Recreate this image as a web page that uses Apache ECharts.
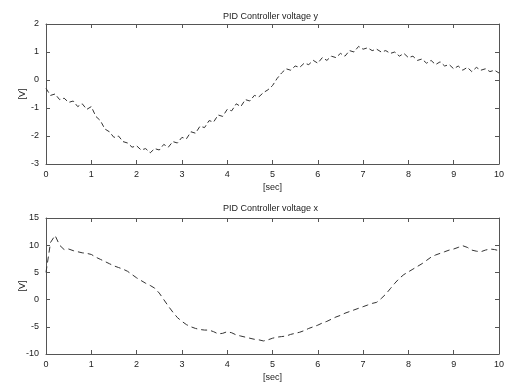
<!DOCTYPE html>
<html><head><meta charset="utf-8">
<script src="https://cdn.jsdelivr.net/npm/echarts@6/dist/echarts.min.js"></script>
<style>html,body{margin:0;padding:0;background:#fff}#c{width:511px;height:383px}</style>
</head><body><div id="c"></div>
<script>
const timeStep = 0.1;
const xTicks = [0,1,2,3,4,5,6,7,8,9,10];
const yTicksTop = [2,1,0,-1,-2,-3];
const yTicksBottom = [15,10,5,0,-5,-10];
const titleTop = 'PID Controller voltage y';
const titleBottom = 'PID Controller voltage x';
const voltageY = [
 -0.30,-0.55,-0.50,-0.70,-0.65,-0.80,-0.75,-0.95,-0.85,-1.05,
 -0.95,-1.30,-1.45,-1.75,-1.85,-2.05,-2.00,-2.20,-2.25,-2.40,
 -2.35,-2.50,-2.45,-2.60,-2.45,-2.50,-2.30,-2.40,-2.20,-2.25,
 -2.05,-2.10,-1.85,-1.90,-1.65,-1.70,-1.45,-1.50,-1.25,-1.30,
 -1.05,-1.10,-0.85,-0.95,-0.70,-0.75,-0.55,-0.60,-0.45,-0.35,
 -0.20,0.05,0.25,0.40,0.35,0.50,0.45,0.60,0.55,0.70,
 0.60,0.80,0.70,0.85,0.80,0.95,0.85,1.05,1.00,1.20,
 1.10,1.15,1.05,1.10,1.00,1.05,0.95,1.00,0.85,0.95,
 0.80,0.85,0.70,0.75,0.60,0.70,0.55,0.65,0.50,0.55,
 0.40,0.50,0.35,0.45,0.30,0.45,0.35,0.40,0.30,0.35,
 0.25
];
const voltageX = [
 5.0,10.5,11.8,10.0,9.2,9.3,9.0,8.8,8.6,8.5,
 8.3,7.8,7.4,7.0,6.6,6.2,5.9,5.6,5.2,4.6,
 4.0,3.5,3.0,2.6,2.1,1.2,0.0,-1.2,-2.3,-3.3,
 -4.0,-4.6,-5.0,-5.3,-5.5,-5.6,-5.6,-5.9,-6.3,-6.2,
 -5.9,-6.1,-6.5,-6.7,-6.9,-7.1,-7.3,-7.4,-7.6,-7.4,
 -7.1,-6.9,-6.8,-6.7,-6.4,-6.2,-6.0,-5.7,-5.3,-5.0,
 -4.7,-4.3,-4.0,-3.6,-3.2,-2.9,-2.5,-2.2,-1.9,-1.6,
 -1.3,-1.0,-0.7,-0.5,0.2,1.0,2.0,3.0,3.9,4.6,
 5.1,5.6,6.1,6.6,7.2,7.8,8.2,8.5,8.8,9.1,
 9.3,9.6,9.9,9.6,9.1,8.9,8.8,9.1,9.3,9.2,
 9.0
];
const pairs = arr => arr.map((v,i)=>[+(i*timeStep).toFixed(2), v]);
const font = 'Liberation Sans, Arial, sans-serif';
const axisCol = '#555';
function xAx(gi, showLabel, pos){
  return {type:'value', gridIndex:gi, min:0, max:10, interval:1, position:pos,
    name: showLabel ? '[sec]' : '', nameLocation:'middle', nameGap:19, nameMoveOverlap:false,
    nameTextStyle:{fontFamily:font,fontSize:9,color:'#222'},
    axisLine:{show:true,onZero:false,lineStyle:{color:axisCol,width:1}},
    axisTick:{show:true,inside:true,length:4,lineStyle:{color:axisCol}},
    axisLabel:{show:showLabel,fontFamily:font,fontSize:9,color:'#222',margin:6},
    splitLine:{show:false}};
}
function yAx(gi, min, max, interval, showLabel, pos){
  return {type:'value', gridIndex:gi, min:min, max:max, interval:interval, position:pos,
    name: showLabel ? '[V]' : '', nameLocation:'middle', nameGap:19, nameRotate:90, nameMoveOverlap:false,
    nameTextStyle:{fontFamily:font,fontSize:9,color:'#222'},
    axisLine:{show:true,onZero:false,lineStyle:{color:axisCol,width:1}},
    axisTick:{show:true,inside:true,length:4,lineStyle:{color:axisCol}},
    axisLabel:{show:showLabel,fontFamily:font,fontSize:9,color:'#222',margin:7},
    splitLine:{show:false}};
}
const chart = echarts.init(document.getElementById('c'), null, {renderer:'canvas'});
chart.setOption({
  animation:false,
  backgroundColor:'#fff',
  title:[
    {text:titleTop,left:218,top:7,textStyle:{fontFamily:font,fontSize:9,fontWeight:'normal',color:'#222'}},
    {text:titleBottom,left:218,top:199,textStyle:{fontFamily:font,fontSize:9,fontWeight:'normal',color:'#222'}}
  ],
  grid:[
    {left:46,right:12,top:24,height:140},
    {left:46,right:12,top:218,height:139}
  ],
  xAxis:[xAx(0,true,'bottom'),xAx(0,false,'top'),xAx(1,true,'bottom'),xAx(1,false,'top')],
  yAxis:[yAx(0,-3,2,1,true,'left'),yAx(0,-3,2,1,false,'right'),yAx(1,-10,15,5,true,'left'),yAx(1,-10,15,5,false,'right')],
  series:[
    {type:'line',xAxisIndex:0,yAxisIndex:0,data:pairs(voltageY),showSymbol:false,
     lineStyle:{color:'#333',width:1,type:[5,3]}},
    {type:'line',xAxisIndex:2,yAxisIndex:2,data:pairs(voltageX),showSymbol:false,
     lineStyle:{color:'#333',width:1,type:[6,4]}}
  ]
});
</script></body></html>
